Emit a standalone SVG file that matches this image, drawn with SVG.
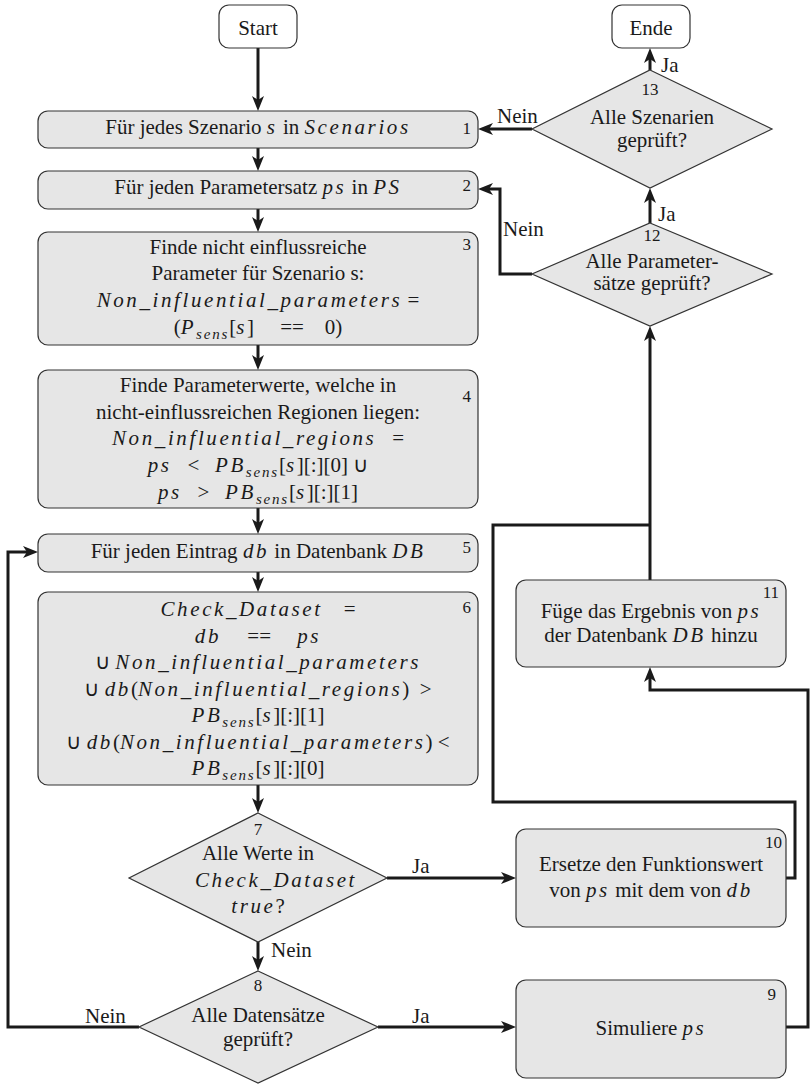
<svg xmlns="http://www.w3.org/2000/svg" width="810" height="1085" viewBox="0 0 810 1085">
<defs>
<style>
.box{fill:#e6e6e6;stroke:#333;stroke-width:1.2}
.term{fill:#fff;stroke:#333;stroke-width:1.2}
.c{fill:none;stroke:#1a1a1a;stroke-width:3;stroke-linejoin:miter}
.a{marker-end:url(#ah)}
text{font-family:"Liberation Serif",serif;font-size:21px;fill:#1a1a1a}
.t{text-anchor:middle}
.m{font-style:italic;letter-spacing:2.6px}
.sub{font-size:15px;font-style:italic;letter-spacing:1.8px}
.n{font-size:17px;text-anchor:end}
.nm{font-size:17px;text-anchor:middle}
.lbl{text-anchor:start}
</style>
<marker id="ah" viewBox="0 0 15 12" markerWidth="15" markerHeight="12" refX="5" refY="6" orient="auto" markerUnits="userSpaceOnUse">
<path d="M0,0 L15,6 L0,12 L4,6 z" fill="#1a1a1a"/>
</marker>
</defs>
<rect width="810" height="1085" fill="#fff"/>
<g font-family="Liberation Serif">

<g id="connectors">
<path class="c a" d="M258,48 V101"/>
<path class="c a" d="M258,148 V161"/>
<path class="c a" d="M258,209 V222"/>
<path class="c a" d="M258,345 V360"/>
<path class="c a" d="M258,508 V524"/>
<path class="c a" d="M258,572 V582"/>
<path class="c a" d="M258,785 V803"/>
<path class="c a" d="M258,942 V961"/>
<path class="c a" d="M387,878 H506"/>
<path class="c a" d="M378,1027 H506"/>
<path class="c a" d="M139,1027 H8 V552 H28"/>
<path class="c a" d="M786,1027 H808 V690 H650 V677"/>
<path class="c" d="M786,878 H795 V802 H493 V525 H650"/>
<path class="c a" d="M650,580 V336"/>
<path class="c a" d="M650,223 V198"/>
<path class="c a" d="M532,274 H500 V189 H488"/>
<path class="c a" d="M532,129 H488"/>
<path class="c a" d="M650,70 V58"/>
<text class="lbl" x="497" y="123">Nein</text>
<text class="lbl" x="661" y="72">Ja</text>
<text class="lbl" x="658" y="221">Ja</text>
<text class="lbl" x="503" y="236">Nein</text>
<text class="lbl" x="412" y="873">Ja</text>
<text class="lbl" x="271" y="957">Nein</text>
<text class="lbl" x="412" y="1023">Ja</text>
<text class="lbl" x="85" y="1023">Nein</text>
</g>

<g id="start">
<rect class="term" x="219" y="5" width="78" height="43" rx="10"/>
<text class="t" x="258" y="35">Start</text>
</g>
<g id="ende">
<rect class="term" x="612" y="5" width="78" height="43" rx="10"/>
<text class="t" x="651" y="35">Ende</text>
</g>

<g id="n1">
<rect class="box" x="38" y="111" width="440" height="37" rx="10"/>
<text class="t" x="258" y="134">Für jedes Szenario <tspan class="m">s</tspan> in <tspan class="m">Scenarios</tspan></text>
<text class="n" x="471" y="134">1</text>
</g>

<g id="n2">
<rect class="box" x="38" y="171" width="440" height="38" rx="10"/>
<text class="t" x="258" y="194">Für jeden Parametersatz <tspan class="m">ps</tspan> in <tspan class="m">PS</tspan></text>
<text class="n" x="471" y="191">2</text>
</g>

<g id="n3">
<rect class="box" x="38" y="232" width="440" height="113" rx="10"/>
<text class="t" x="258" y="254">Finde nicht einflussreiche</text>
<text class="t" x="258" y="280">Parameter für Szenario s:</text>
<text class="t" x="258" y="307"><tspan class="m">Non_influential_parameters</tspan> =</text>
<text class="t" x="258" y="334">(<tspan class="m">P</tspan><tspan class="sub" dy="5">sens</tspan><tspan dy="-5">[</tspan><tspan class="m">s</tspan>]&#160;&#160;&#160;&#160;&#160;==&#160;&#160;&#160;&#160;0)</text>
<text class="n" x="471" y="250">3</text>
</g>

<g id="n4">
<rect class="box" x="38" y="370" width="440" height="138" rx="10"/>
<text class="t" x="258" y="392">Finde Parameterwerte, welche in</text>
<text class="t" x="258" y="419">nicht-einflussreichen Regionen liegen:</text>
<text class="t" x="258" y="445"><tspan class="m">Non_influential_regions</tspan>&#160;&#160;&#160;=</text>
<text class="t" x="258" y="472"><tspan class="m">ps</tspan>&#160;&#160;&#160;&lt;&#160;&#160;&#160;<tspan class="m">PB</tspan><tspan class="sub" dy="5">sens</tspan><tspan dy="-5">[</tspan><tspan class="m">s</tspan>][:][0] ∪</text>
<text class="t" x="258" y="499"><tspan class="m">ps</tspan>&#160;&#160;&#160;&gt;&#160;&#160;&#160;<tspan class="m">PB</tspan><tspan class="sub" dy="5">sens</tspan><tspan dy="-5">[</tspan><tspan class="m">s</tspan>][:][1]</text>
<text class="n" x="471" y="402">4</text>
</g>

<g id="n5">
<rect class="box" x="38" y="534" width="440" height="38" rx="10"/>
<text class="t" x="258" y="558">Für jeden Eintrag <tspan class="m">db</tspan> in Datenbank <tspan class="m">DB</tspan></text>
<text class="n" x="471" y="553">5</text>
</g>

<g id="n6">
<rect class="box" x="38" y="592" width="440" height="193" rx="10"/>
<text class="t" x="258" y="616"><tspan class="m">Check_Dataset</tspan>&#160;&#160;&#160;&#160;=</text>
<text class="t" x="258" y="642.5"><tspan class="m">db</tspan>&#160;&#160;&#160;&#160;&#160;==&#160;&#160;&#160;&#160;&#160;<tspan class="m">ps</tspan></text>
<text class="t" x="258" y="669">∪ <tspan class="m">Non_influential_parameters</tspan></text>
<text class="t" x="258" y="695.5">∪ <tspan class="m">db</tspan>(<tspan class="m">Non_influential_regions</tspan>)&#160;&#160;&gt;</text>
<text class="t" x="258" y="722"><tspan class="m">PB</tspan><tspan class="sub" dy="5">sens</tspan><tspan dy="-5">[</tspan><tspan class="m">s</tspan>][:][1]</text>
<text class="t" x="258" y="748.5">∪ <tspan class="m">db</tspan>(<tspan class="m">Non_influential_parameters</tspan>) &lt;</text>
<text class="t" x="258" y="775"><tspan class="m">PB</tspan><tspan class="sub" dy="5">sens</tspan><tspan dy="-5">[</tspan><tspan class="m">s</tspan>][:][0]</text>
<text class="n" x="471" y="613">6</text>
</g>

<g id="d7">
<polygon class="box" points="258,813 387,878 258,942 129,878"/>
<text class="nm" x="258" y="835">7</text>
<text class="t" x="258" y="860">Alle Werte in</text>
<text class="t" x="276" y="887"><tspan class="m">Check_Dataset</tspan></text>
<text class="t" x="258" y="913"><tspan class="m">true</tspan>?</text>
</g>

<g id="d8">
<polygon class="box" points="258,971 378,1027 258,1083 139,1027"/>
<text class="nm" x="258" y="991">8</text>
<text class="t" x="258" y="1022">Alle Datensätze</text>
<text class="t" x="258" y="1046">geprüft?</text>
</g>

<g id="n9">
<rect class="box" x="516" y="980" width="270" height="98" rx="10"/>
<text class="t" x="651" y="1035">Simuliere <tspan class="m">ps</tspan></text>
<text class="n" x="776" y="1000">9</text>
</g>

<g id="n10">
<rect class="box" x="516" y="829" width="270" height="98" rx="10"/>
<text class="t" x="651" y="871">Ersetze den Funktionswert</text>
<text class="t" x="651" y="897">von <tspan class="m">ps</tspan> mit dem von <tspan class="m">db</tspan></text>
<text class="n" x="782" y="848">10</text>
</g>

<g id="n11">
<rect class="box" x="516" y="580" width="270" height="87" rx="10"/>
<text class="t" x="651" y="618">Füge das Ergebnis von <tspan class="m">ps</tspan></text>
<text class="t" x="651" y="642">der Datenbank <tspan class="m">DB</tspan> hinzu</text>
<text class="n" x="779" y="598">11</text>
</g>

<g id="d12">
<polygon class="box" points="650,223 772,274 650,326 532,274"/>
<text class="nm" x="652" y="241">12</text>
<text class="t" x="652" y="268">Alle Parameter-</text>
<text class="t" x="652" y="290">sätze geprüft?</text>
</g>

<g id="d13">
<polygon class="box" points="650,70 772,129 650,188 532,129"/>
<text class="nm" x="650" y="95">13</text>
<text class="t" x="652" y="124">Alle Szenarien</text>
<text class="t" x="652" y="147">geprüft?</text>
</g>
</g>
</svg>
